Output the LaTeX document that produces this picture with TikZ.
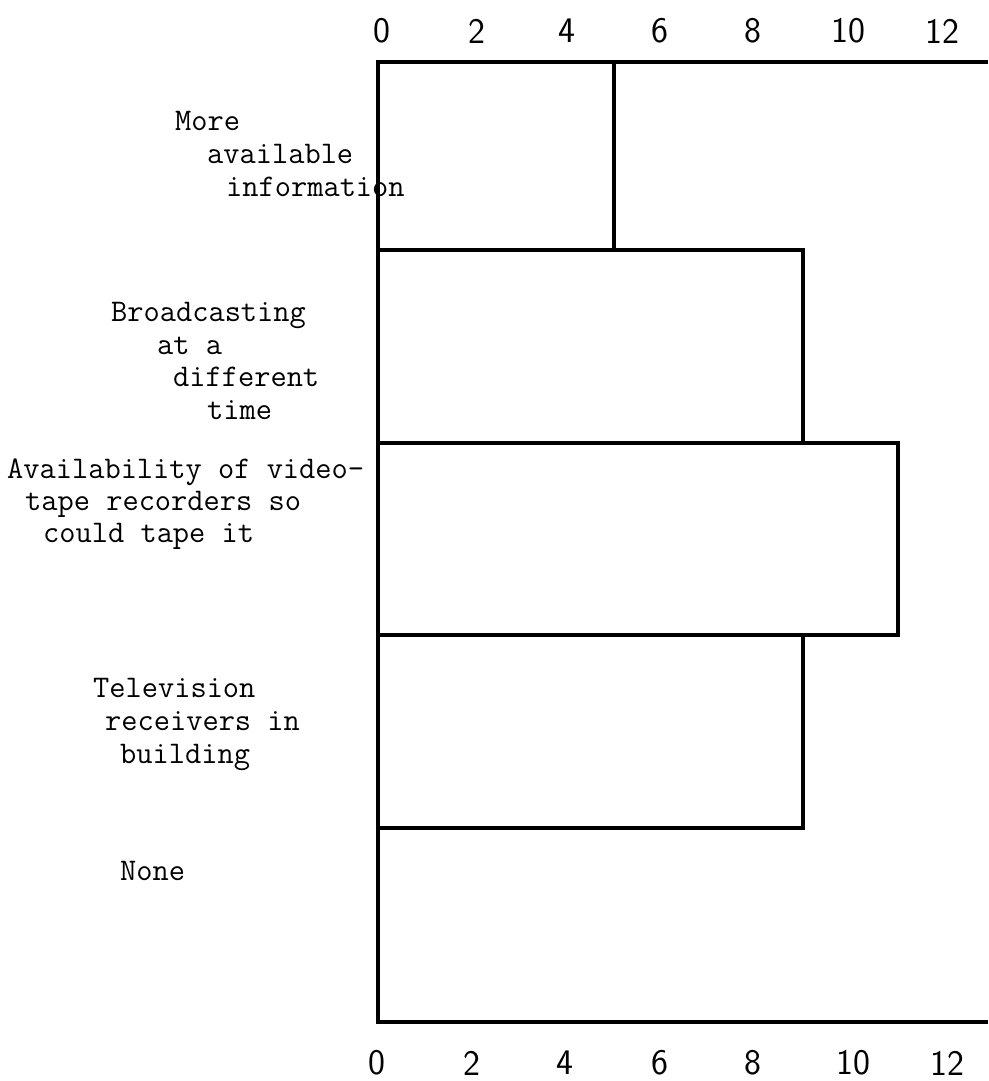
\documentclass[tikz,border=0pt]{standalone}
\usepackage{fontspec}
\begin{document}
\begin{tikzpicture}[x=1pt,y=-1pt,
  bar/.style={draw=black,line width=4.5pt,line join=miter},
  axisline/.style={draw=black,line width=4.5pt,line cap=butt},
  lbl/.style={anchor=base west,inner sep=0pt,font=\fontsize{31.5}{33}\selectfont\ttfamily\addfontfeatures{FakeBold=4}},
  num/.style={anchor=center,inner sep=0pt,font=\fontsize{36}{38}\selectfont\sffamily\addfontfeatures{FakeBold=3}}]
\useasboundingbox (0,0) rectangle (988,1081);
% bars
\draw[bar] (378,62) rectangle (614,250);
\draw[bar] (378,250) rectangle (803,443);
\draw[bar] (378,443) rectangle (898,635);
\draw[bar] (378,635) rectangle (803,828);
% axes
\coordinate (tl) at (378,62);
\coordinate (tr) at (988,62);
\coordinate (bl) at (378,1022);
\coordinate (br) at (988,1022);
\draw[axisline] (tr) -- (tl) -- (bl) -- (br);
% top numbers
\node[num] (t0) at (382,31) {0};
\node[num] (t2) at (477,31) {2};
\node[num] (t4) at (567,31) {4};
\node[num] (t6) at (660,31) {6};
\node[num] (t8) at (753,31) {8};
\node[num] (t10) at (848,31) {10};
\node[num] (t12) at (942,31) {12};
% bottom numbers
\node[num] (b0) at (377,1063) {0};
\node[num] (b2) at (472,1063) {2};
\node[num] (b4) at (565,1063) {4};
\node[num] (b6) at (660,1063) {6};
\node[num] (b8) at (753,1063) {8};
\node[num] (b10) at (853,1063) {10};
\node[num] (b12) at (947,1063) {12};
% labels
\node[lbl] (l1a) at (175,130) {More};
\node[lbl] (l1b) at (207,163) {available};
\node[lbl] (l1c) at (226,196) {information};
\node[lbl] (l2a) at (111,321) {Broadcasting};
\node[lbl] (l2b) at (157,354) {at a};
\node[lbl] (l2c) at (173,386) {different};
\node[lbl] (l2d) at (207,419) {time};
\node[lbl] (l3a) at (7,478) {Availability of video-};
\node[lbl] (l3b) at (25,510) {tape recorders so};
\node[lbl] (l3c) at (43,542) {could tape it};
\node[lbl] (l4a) at (93,697) {Television};
\node[lbl] (l4b) at (105,730) {receivers in};
\node[lbl] (l4c) at (120,763) {building};
\node[lbl] (l5a) at (120,880) {None};
\end{tikzpicture}
\end{document}
